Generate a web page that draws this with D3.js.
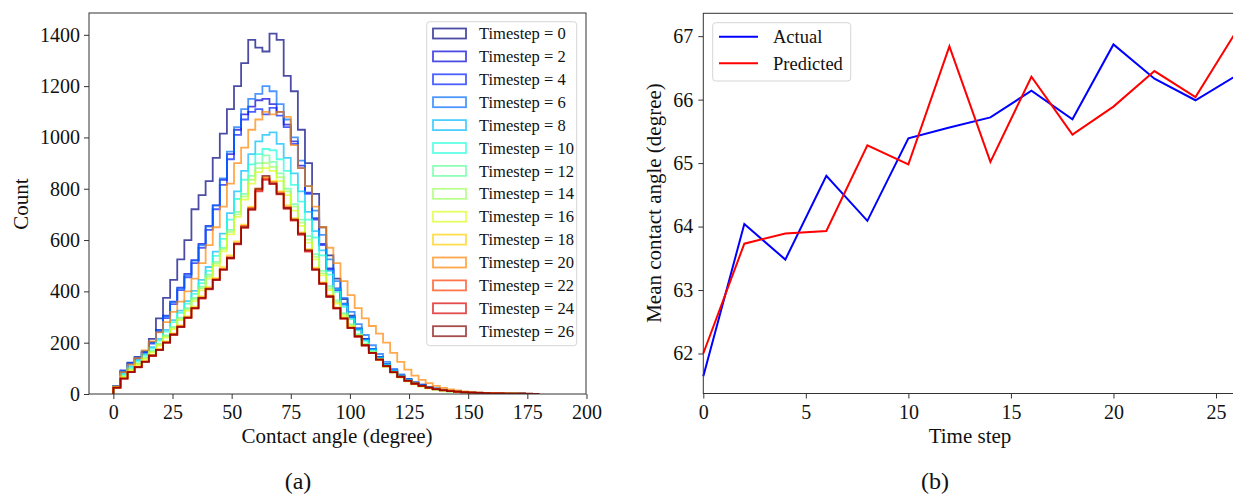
<!DOCTYPE html>
<html>
<head>
<meta charset="utf-8">
<script src="https://cdn.jsdelivr.net/npm/d3@7"></script>
<style>
  html, body { margin: 0; padding: 0; background: #fff; }
  svg { display: block; font-family: "Liberation Serif", "Times New Roman", serif; }
</style>
</head>
<body>
<svg id="chart" width="1233" height="500"></svg>
<script>
// ---------------- DATA ----------------
// Panel (a): histogram counts, bins of 3 degrees from 0 to 180
const binStart = 0;
const binWidth = 3;
const timesteps = [0, 2, 4, 6, 8, 10, 12, 14, 16, 18, 20, 22, 24, 26];
const counts_ts0  = [30,85,120,145,165,215,295,375,445,525,600,720,775,830,920,1015,1110,1200,1290,1380,1350,1335,1405,1380,1240,1180,1030,900,780,650,540,450,370,305,255,215,175,145,115,90,72,58,45,36,28,22,17,13,10,8,6,5,4,3,2,2,1,1,1,0];
const counts_ts2  = [30,92,122,140,166,202,250,305,360,415,468,522,585,655,735,835,935,1030,1090,1120,1145,1150,1130,1100,1050,985,890,785,685,585,490,412,352,300,256,214,176,144,116,92,72,56,43,33,26,20,15,11,9,7,5,4,3,2,2,1,1,1,0,0];
const counts_ts4  = [32,88,118,138,160,196,242,296,350,405,455,510,570,640,720,815,915,1010,1070,1100,1110,1090,1115,1085,1040,975,880,780,680,580,485,405,348,298,252,212,174,143,114,91,71,55,43,34,26,20,15,12,9,7,5,4,3,2,2,1,1,1,0,0];
const counts_ts6  = [30,90,120,142,165,200,248,302,358,412,462,520,580,652,735,840,945,1040,1110,1150,1170,1200,1180,1130,1070,1000,910,810,715,620,525,440,375,320,272,230,190,156,125,98,76,59,46,36,28,21,16,12,9,7,5,4,3,2,2,1,1,1,0,0];
const counts_ts8  = [30,80,108,132,155,183,215,250,288,325,362,402,445,495,555,625,705,790,870,935,985,1010,1020,975,920,860,790,710,635,560,480,410,350,300,255,212,175,143,115,90,70,54,42,33,25,19,15,11,8,6,5,4,3,2,2,1,1,1,0,0];
const counts_ts10 = [28,76,104,128,150,177,208,243,280,316,352,390,432,480,538,605,680,760,835,895,935,955,950,915,870,815,750,680,610,540,465,398,340,292,248,207,170,139,112,88,68,53,41,32,24,18,14,10,8,6,5,4,3,2,1,1,1,1,0,0];
const counts_ts12 = [28,70,98,120,142,168,196,228,262,298,335,375,418,465,515,570,640,710,780,850,900,930,905,860,800,740,680,615,545,480,420,365,315,272,233,196,165,136,110,86,67,51,40,31,24,18,14,10,8,6,5,4,3,2,1,1,1,0,0,0];
const counts_ts14 = [27,68,95,117,139,165,193,225,258,293,330,370,412,458,508,565,632,700,770,835,880,900,885,845,790,730,668,602,535,470,412,358,310,268,230,194,162,134,108,85,66,50,39,30,23,18,13,10,8,6,4,3,2,2,1,1,1,0,0,0];
const counts_ts16 = [26,66,92,114,136,161,189,220,253,288,324,362,404,450,500,556,622,690,758,820,865,880,870,830,775,715,655,590,525,462,405,352,305,264,226,191,160,132,106,83,64,49,38,29,22,17,13,10,7,5,4,3,2,2,1,1,1,0,0,0];
const counts_ts18 = [25,62,88,108,128,152,176,205,236,267,302,340,380,416,452,494,540,595,660,730,800,845,830,790,735,685,630,565,492,435,385,338,298,260,226,191,161,135,110,86,68,52,41,32,25,19,15,11,9,7,5,4,3,2,2,1,1,1,0,0];
const counts_ts20 = [30,85,115,140,170,205,240,280,320,360,400,450,510,580,650,730,820,900,960,1030,1070,1100,1090,1100,1080,970,880,810,730,650,570,510,440,385,335,295,265,235,200,160,125,95,72,55,42,32,24,18,14,10,8,6,4,3,2,2,1,1,1,0];
const counts_ts22 = [25,61,86,106,127,150,173,202,233,264,299,336,376,412,448,488,533,588,655,725,795,840,825,785,728,680,625,560,488,432,382,336,296,259,225,190,160,134,109,85,67,51,40,32,25,19,14,11,8,6,5,4,3,2,2,1,1,1,0,0];
const counts_ts24 = [24,60,85,104,125,148,171,199,230,261,296,333,372,408,444,484,528,583,648,718,790,835,818,778,722,676,620,555,484,428,378,333,293,257,223,189,159,133,108,84,66,51,40,31,24,18,14,11,8,6,5,4,3,2,2,1,1,1,0,0];
const counts_ts26 = [25,60,85,105,125,150,172,200,232,262,298,335,375,410,445,485,530,585,650,720,800,850,820,780,725,680,625,560,485,430,380,335,295,258,225,190,160,135,110,85,68,52,41,33,25,19,15,11,9,7,5,4,3,2,2,1,1,1,0,0];
const histCounts = [counts_ts0, counts_ts2, counts_ts4, counts_ts6, counts_ts8, counts_ts10, counts_ts12,
                    counts_ts14, counts_ts16, counts_ts18, counts_ts20, counts_ts22, counts_ts24, counts_ts26];
const xTicksA = [0, 25, 50, 75, 100, 125, 150, 175, 200];
const yTicksA = [0, 200, 400, 600, 800, 1000, 1200, 1400];

// Panel (b): mean contact angle per time step
const timeSteps = [0, 2, 4, 6, 8, 10, 12, 14, 16, 18, 20, 22, 24, 26];
const actual    = [61.64, 64.04, 63.48, 64.80, 64.09, 65.39, 65.56, 65.72, 66.14, 65.69, 66.87, 66.33, 65.99, 66.38];
const predicted = [62.00, 63.73, 63.89, 63.93, 65.28, 64.98, 66.84, 65.02, 66.36, 65.45, 65.89, 66.45, 66.04, 67.08];
const xTicksB = [0, 5, 10, 15, 20, 25];
const yTicksB = [62, 63, 64, 65, 66, 67];

// ---------------- STYLE HELPERS ----------------
function jet(t) {
  function seg(pts) {
    for (let i = 0; i < pts.length - 1; i++) {
      const [x0, y0] = pts[i], [x1, y1] = pts[i + 1];
      if (t >= x0 && t <= x1) return y0 + (y1 - y0) * (t - x0) / (x1 - x0);
    }
    return pts[pts.length - 1][1];
  }
  const r = seg([[0, 0], [0.35, 0], [0.66, 1], [0.89, 1], [1, 0.5]]);
  const g = seg([[0, 0], [0.125, 0], [0.375, 1], [0.64, 1], [0.91, 0], [1, 0]]);
  const b = seg([[0, 0.5], [0.11, 1], [0.34, 1], [0.65, 0], [1, 0]]);
  return d3.rgb(r * 255, g * 255, b * 255).toString();
}
const FONT = '"Liberation Serif", "Times New Roman", serif';
const INK = "#111";
const SPINE = "#333";

const svg = d3.select("#chart");

function styleAxis(g, size) {
  g.select(".domain").remove();
  g.selectAll(".tick line").attr("stroke", SPINE).attr("stroke-width", 1);
  g.selectAll(".tick text").attr("fill", INK).style("font-size", size + "px").style("font-family", FONT);
}

// ---------------- PANEL (a) ----------------
const A = { l: 89, r: 586, t: 13, b: 394 };
const xA = d3.scaleLinear().domain([-10.3, 199.8]).range([A.l, A.r]);
const yA = d3.scaleLinear().domain([0, 1485]).range([A.b, A.t]);

const gA = svg.append("g");
const clipA = svg.append("clipPath").attr("id", "clipA");
clipA.append("rect").attr("x", A.l).attr("y", A.t).attr("width", A.r - A.l).attr("height", A.b - A.t);

const stepLine = d3.line().x(d => xA(d[0])).y(d => yA(d[1]));
const histG = gA.append("g").attr("clip-path", "url(#clipA)");
histCounts.forEach((arr, k) => {
  const pts = [[binStart, 0]];
  arr.forEach((v, i) => {
    pts.push([binStart + i * binWidth, v]);
    pts.push([binStart + (i + 1) * binWidth, v]);
  });
  pts.push([binStart + arr.length * binWidth, 0]);
  histG.append("path")
    .attr("d", stepLine(pts))
    .attr("fill", "none")
    .attr("stroke", jet(k / (histCounts.length - 1)))
    .attr("stroke-opacity", 0.7)
    .attr("stroke-width", 1.8)
    .attr("stroke-linejoin", "miter");
});

gA.append("g").attr("transform", `translate(0,${A.b})`)
  .call(d3.axisBottom(xA).tickValues(xTicksA).tickSize(5).tickPadding(6).tickFormat(d3.format("d")))
  .call(g => styleAxis(g, 20));
gA.append("g").attr("transform", `translate(${A.l},0)`)
  .call(d3.axisLeft(yA).tickValues(yTicksA).tickSize(5).tickPadding(4).tickFormat(d3.format("d")))
  .call(g => styleAxis(g, 20));
gA.append("rect").attr("x", A.l).attr("y", A.t).attr("width", A.r - A.l).attr("height", A.b - A.t)
  .attr("fill", "none").attr("stroke", SPINE).attr("stroke-width", 1);

// legend (a)
const legA = gA.append("g");
legA.append("rect").attr("x", 426.7).attr("y", 21.7).attr("width", 150).attr("height", 324)
  .attr("rx", 3).attr("fill", "#fff").attr("fill-opacity", 0.8).attr("stroke", "#d5d5d5").attr("stroke-width", 1);
timesteps.forEach((ts, i) => {
  const cy = 33.5 + 22.9 * i;
  legA.append("rect").attr("x", 433).attr("y", cy - 5).attr("width", 33).attr("height", 10)
    .attr("fill", "none").attr("stroke", jet(i / (timesteps.length - 1))).attr("stroke-opacity", 0.7).attr("stroke-width", 1.8);
  legA.append("text").attr("x", 479).attr("y", cy + 5.6).attr("fill", INK)
    .style("font-size", "16.5px").text(`Timestep = ${ts}`);
});

gA.append("text").attr("x", 337).attr("y", 443).attr("text-anchor", "middle").attr("fill", INK)
  .style("font-size", "21px").text("Contact angle (degree)");
gA.append("text").attr("transform", "translate(28,204) rotate(-90)").attr("text-anchor", "middle").attr("fill", INK)
  .style("font-size", "21px").text("Count");
gA.append("text").attr("x", 298).attr("y", 489).attr("text-anchor", "middle").attr("fill", INK)
  .style("font-size", "24px").text("(a)");

// ---------------- PANEL (b) ----------------
const B = { l: 703.3, r: 1236.5, t: 13.3, b: 393.5 };
const xB = d3.scaleLinear().domain([0, 26]).range([B.l, B.r]);
const yB = d3.scaleLinear().domain([61.37, 67.36]).range([B.b, B.t]);
const gB = svg.append("g");

const lineB = d3.line().x((d, i) => xB(timeSteps[i])).y(d => yB(d));
gB.append("path").attr("d", lineB(actual)).attr("fill", "none").attr("stroke", "#0000ff").attr("stroke-width", 2);
gB.append("path").attr("d", lineB(predicted)).attr("fill", "none").attr("stroke", "#ff0000").attr("stroke-width", 2);

gB.append("g").attr("transform", `translate(0,${B.b})`)
  .call(d3.axisBottom(xB).tickValues(xTicksB).tickSize(5).tickPadding(6).tickFormat(d3.format("d")))
  .call(g => styleAxis(g, 20));
gB.append("g").attr("transform", `translate(${B.l},0)`)
  .call(d3.axisLeft(yB).tickValues(yTicksB).tickSize(5).tickPadding(5).tickFormat(d3.format("d")))
  .call(g => styleAxis(g, 20));
gB.append("rect").attr("x", B.l).attr("y", B.t).attr("width", B.r - B.l).attr("height", B.b - B.t)
  .attr("fill", "none").attr("stroke", SPINE).attr("stroke-width", 1);

// legend (b)
const legB = gB.append("g");
legB.append("rect").attr("x", 712.7).attr("y", 22.7).attr("width", 138).attr("height", 58.3)
  .attr("rx", 3).attr("fill", "#fff").attr("fill-opacity", 0.8).attr("stroke", "#d5d5d5").attr("stroke-width", 1);
[["Actual", "#0000ff", 36.7], ["Predicted", "#ff0000", 63.3]].forEach(([name, col, cy]) => {
  legB.append("line").attr("x1", 719).attr("x2", 758).attr("y1", cy).attr("y2", cy)
    .attr("stroke", col).attr("stroke-width", 2);
  legB.append("text").attr("x", 773).attr("y", cy + 6.5).attr("fill", INK)
    .style("font-size", "18.5px").text(name);
});

gB.append("text").attr("x", 970).attr("y", 443).attr("text-anchor", "middle").attr("fill", INK)
  .style("font-size", "21px").text("Time step");
gB.append("text").attr("transform", "translate(661,203) rotate(-90)").attr("text-anchor", "middle").attr("fill", INK)
  .style("font-size", "21px").text("Mean contact angle (degree)");
gB.append("text").attr("x", 935).attr("y", 489).attr("text-anchor", "middle").attr("fill", INK)
  .style("font-size", "24px").text("(b)");
</script>
</body>
</html>
